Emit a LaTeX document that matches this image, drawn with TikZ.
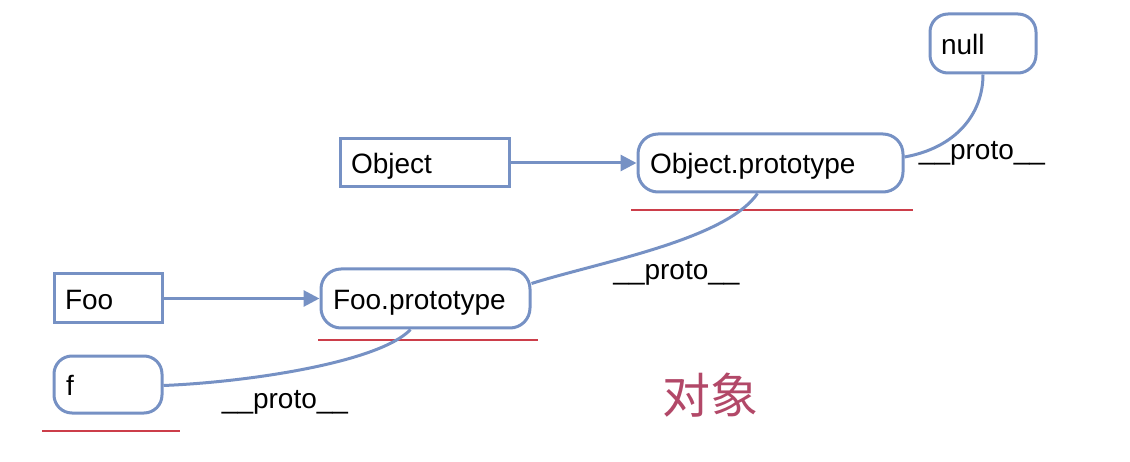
\documentclass[tikz,border=0pt]{standalone}
\usepackage{fontspec}
\setmainfont{Liberation Sans}
\newfontfamily\cjk{Noto Sans CJK SC}
\usetikzlibrary{arrows.meta,calc}
\definecolor{boxblue}{RGB}{118,145,196}
\definecolor{ulred}{RGB}{204,62,74}
\definecolor{cjkred}{RGB}{178,72,104}
\tikzset{
  objbox/.style={draw=boxblue, line width=3pt, fill=white, inner xsep=11pt, inner ysep=0pt,
    font=\fontsize{28}{34}\selectfont, align=left, text height=26pt, text depth=4pt},
  rbox/.style={objbox, rounded corners=18pt},
  conn/.style={draw=boxblue, line width=3pt},
  arr/.style={conn, -{Triangle[length=16pt,width=16pt]}},
  ul/.style={draw=ulred, line width=2pt},
  lbl/.style={font=\fontsize{28}{34}\selectfont, inner sep=0pt, anchor=base}
}
\begin{document}
\begin{tikzpicture}[x=1pt,y=-1pt]
\useasboundingbox (0,0) rectangle (1130,462);
% underlines
\draw[ul] (631,210) coordinate (u1a) -- (913,210) coordinate (u1b);
\draw[ul] (318,340) coordinate (u2a) -- (538,340) coordinate (u2b);
\draw[ul] (42,431) coordinate (u3a) -- (180,431) coordinate (u3b);
% nodes
\node[rbox, minimum width=106pt, minimum height=59pt, text width=84pt] (null) at (983,43.5) {null};
\node[objbox, minimum width=169pt, minimum height=48pt, text width=147pt] (obj) at (424.5,163) {Object};
\node[rbox, minimum width=265pt, minimum height=58pt, text width=241pt, rounded corners=20pt] (op) at (770.5,163) {Object.prototype};
\node[objbox, minimum width=108pt, minimum height=49pt, text width=86pt] (foo) at (108,298.5) {Foo};
\node[rbox, minimum width=209pt, minimum height=59pt, text width=185pt, rounded corners=20pt] (fp) at (425.5,298.5) {Foo.prototype};
\node[rbox, minimum width=108pt, minimum height=57pt, text width=84pt] (f) at (108,384.5) {f};
% arrows
\draw[arr] (obj.east) -- (op.west);
\draw[arr] (foo.east) -- (fp.west);
% proto curves
\draw[conn] ($(op.east)+(0,-6)$) .. controls (955,148) and (983,115) .. (null.south);
\draw[conn] ($(op.south)+(-13,0)$) .. controls (725,240) and (600,262) .. ($(fp.east)+(0,-15)$);
\draw[conn] ($(fp.south)+(-15,0)$) .. controls (380,362) and (250,382) .. ($(f.east)+(0,1)$);
% labels
\node[lbl] (l1) at (982,160) {\_\_proto\_\_};
\node[lbl] (l2) at (676.5,280) {\_\_proto\_\_};
\node[lbl] (l3) at (285,408) {\_\_proto\_\_};
\node[font=\cjk\fontsize{48}{54}\selectfont, text=cjkred, inner sep=0pt] (cj) at (710,395) {对象};
\end{tikzpicture}
\end{document}
